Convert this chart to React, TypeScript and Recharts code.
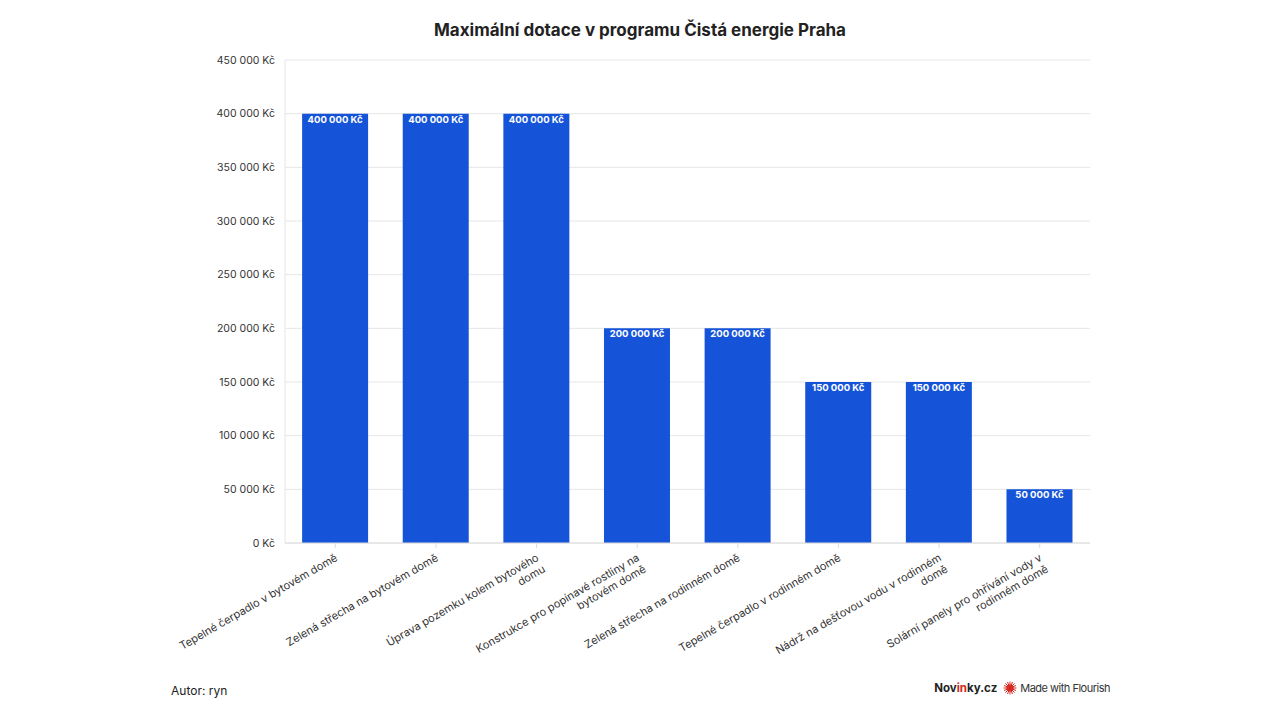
import React from "react";
import { BarChart, Bar, XAxis, YAxis, CartesianGrid, LabelList } from "recharts";

// Subsidy types (line breaks where the axis label wraps)
const categories = [
  "Tepelné čerpadlo v bytovém domě",
  "Zelená střecha na bytovém domě",
  "Úprava pozemku kolem bytového\ndomu",
  "Konstrukce pro popínavé rostliny na\nbytovém domě",
  "Zelená střecha na rodinném domě",
  "Tepelné čerpadlo v rodinném domě",
  "Nádrž na dešťovou vodu v rodinném\ndomě",
  "Solární panely pro ohřívání vody v\nrodinném domě",
];

const maxSubsidy = [400000, 400000, 400000, 200000, 200000, 150000, 150000, 50000];

const yTicks = [0, 50000, 100000, 150000, 200000, 250000, 300000, 350000, 400000, 450000];

const data = categories.map((name, i) => ({ name, value: maxSubsidy[i] }));

const FONT = "Inter, 'Noto Sans', sans-serif";
const BAR = "#1554d9";

const formatKc = (v: number) =>
  `${String(v).replace(/\B(?=(\d{3})+(?!\d))/g, " ")} Kč`;

function CategoryTick(props: any) {
  const { x, y, payload } = props;
  const lines = String(payload.value).split("\n");
  return (
    <g transform={`translate(${x + 3},${y + 10}) rotate(-30)`}>
      <text textAnchor="end" fontSize={11} fill="#333" fontFamily={FONT}>
        {lines.map((l, i) => (
          <tspan key={i} x={0} dy={i === 0 ? 0 : 13}>
            {l}
          </tspan>
        ))}
      </text>
    </g>
  );
}

function ValueLabel(props: any) {
  const { x, y, width, value } = props;
  return (
    <text
      x={x + width / 2}
      y={y + 9}
      textAnchor="middle"
      fontSize={9.5}
      fontWeight={700}
      fill="#fff"
      fontFamily={FONT}
    >
      {formatKc(value)}
    </text>
  );
}

function FlourishMark() {
  const rays = Array.from({ length: 16 }, (_, i) => i * 22.5);
  return (
    <svg width={14} height={14} viewBox="-7 -7 14 14" style={{ marginRight: 3 }}>
      {rays.map((a) => (
        <line
          key={a}
          x1={0}
          y1={0}
          x2={6.5 * Math.cos((a * Math.PI) / 180)}
          y2={6.5 * Math.sin((a * Math.PI) / 180)}
          stroke="#d42a20"
          strokeWidth={1}
        />
      ))}
      <circle r={3.6} fill="#d42a20" />
    </svg>
  );
}

export default function App() {
  return (
    <div
      style={{
        position: "absolute",
        left: 0,
        top: 0,
        width: 1280,
        height: 720,
        background: "#fff",
        fontFamily: FONT,
      }}
    >
      <div
        style={{
          position: "absolute",
          top: 20,
          left: 0,
          width: 1280,
          textAlign: "center",
          fontSize: 17,
          fontWeight: 700,
          color: "#222",
        }}
      >
        Maximální dotace v programu Čistá energie Praha
      </div>
      <BarChart
        width={1280}
        height={720}
        data={data}
        margin={{ top: 60, right: 190, bottom: 77, left: 205 }}
        barCategoryGap="17%"
      >
        <CartesianGrid vertical={false} stroke="#e6e6e6" />
        <XAxis
          dataKey="name"
          interval={0}
          height={100}
          tick={<CategoryTick />}
          axisLine={{ stroke: "#dcdcdc" }}
          tickLine={{ stroke: "#dcdcdc" }}
          tickSize={5}
        />
        <YAxis
          width={80}
          domain={[0, 450000]}
          ticks={yTicks}
          tickFormatter={formatKc}
          axisLine={{ stroke: "#e6e6e6" }}
          tickLine={false}
          tickMargin={4}
          tick={{ fontSize: 10.5, fill: "#333", fontFamily: FONT }}
        />
        <Bar dataKey="value" fill={BAR} isAnimationActive={false}>
          <LabelList dataKey="value" content={<ValueLabel />} />
        </Bar>
      </BarChart>
      <div
        style={{
          position: "absolute",
          left: 171,
          top: 683,
          fontSize: 12,
          color: "#222",
        }}
      >
        Autor: ryn
      </div>
      <div
        style={{
          position: "absolute",
          right: 170,
          top: 681,
          display: "flex",
          alignItems: "center",
          fontSize: 11,
          color: "#333",
        }}
      >
        <span style={{ fontWeight: 700, fontSize: 11.5, color: "#222", marginRight: 6 }}>
          Nov<span style={{ color: "#d42a20" }}>in</span>ky.cz
        </span>
        <FlourishMark />
        <span style={{ letterSpacing: -0.5 }}>Made with Flourish</span>
      </div>
    </div>
  );
}
